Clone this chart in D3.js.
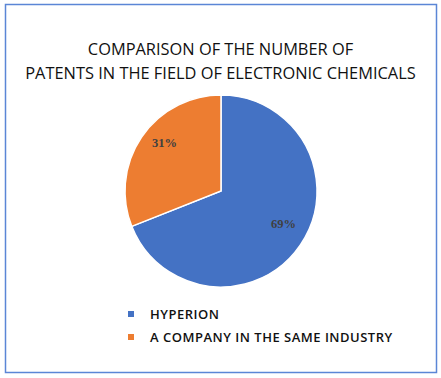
<!DOCTYPE html>
<html>
<head>
<meta charset="utf-8">
<script src="https://cdn.jsdelivr.net/npm/d3@7"></script>
<style>
  body { margin: 0; background: #fff; }
</style>
</head>
<body>
<div id="chart-area"></div>
<script>
const categories = ["HYPERION", "A COMPANY IN THE SAME INDUSTRY"];
const values = [69, 31];
const colors = ["#4472C4", "#ED7D31"];
const titleLines = ["COMPARISON OF THE NUMBER OF", "PATENTS IN THE FIELD OF ELECTRONIC CHEMICALS"];

const svgWidth = 441, svgHeight = 378;
const cx = 221, cy = 191, radius = 96;

const svg = d3.select("#chart-area")
              .append("svg")
              .attr("width", svgWidth)
              .attr("height", svgHeight);

svg.append("rect")
   .attr("x", 5.5).attr("y", 4.5)
   .attr("width", 431).attr("height", 368)
   .attr("fill", "#fff")
   .attr("stroke", "#5B86D6")
   .attr("stroke-width", 1.5);

svg.selectAll("text.title")
   .data(titleLines)
   .enter()
   .append("text")
     .attr("class", "title")
     .attr("x", svgWidth / 2)
     .attr("y", (d, i) => 55 + i * 23.5)
     .attr("text-anchor", "middle")
     .attr("font-family", "'Open Sans', 'Noto Sans', sans-serif")
     .attr("font-size", 16.4)
     .attr("fill", "#111")
     .text(d => d);

const pie = d3.pie().sort(null).value(d => d);
const arc = d3.arc().innerRadius(0).outerRadius(radius);
const labelArc = d3.arc().innerRadius(radius * 0.75).outerRadius(radius * 0.75);

const g = svg.append("g").attr("transform", `translate(${cx},${cy})`);
const arcs = pie(values);

g.selectAll("path")
 .data(arcs)
 .enter()
 .append("path")
   .attr("d", arc)
   .attr("fill", (d, i) => colors[i])
   .attr("stroke", "#fff")
   .attr("stroke-width", 1.5);

g.selectAll("text")
 .data(arcs)
 .enter()
 .append("text")
   .attr("transform", d => `translate(${labelArc.centroid(d)})`)
   .attr("text-anchor", "middle")
   .attr("dx", 3)
   .attr("dy", "-0.3em")
   .attr("font-family", "'Liberation Serif', 'DejaVu Serif', serif")
   .attr("font-weight", "bold")
   .attr("font-size", 12.5)
   .attr("fill", "#404040")
   .text(d => d.data + "%");

const legend = svg.selectAll("g.legend")
                  .data(categories)
                  .enter()
                  .append("g")
                    .attr("class", "legend")
                    .attr("transform", (d, i) => `translate(128, ${314 + i * 23})`);

legend.append("rect")
      .attr("x", 0).attr("y", -3)
      .attr("width", 6).attr("height", 6)
      .attr("fill", (d, i) => colors[i]);

legend.append("text")
      .attr("x", 22)
      .attr("y", 0)
      .attr("dy", "0.35em")
      .attr("font-family", "'Open Sans', 'Noto Sans', sans-serif")
      .attr("font-weight", 600)
      .attr("font-size", 13)
      .attr("letter-spacing", 0.5)
      .attr("fill", "#111")
      .text(d => d);
</script>
</body>
</html>
